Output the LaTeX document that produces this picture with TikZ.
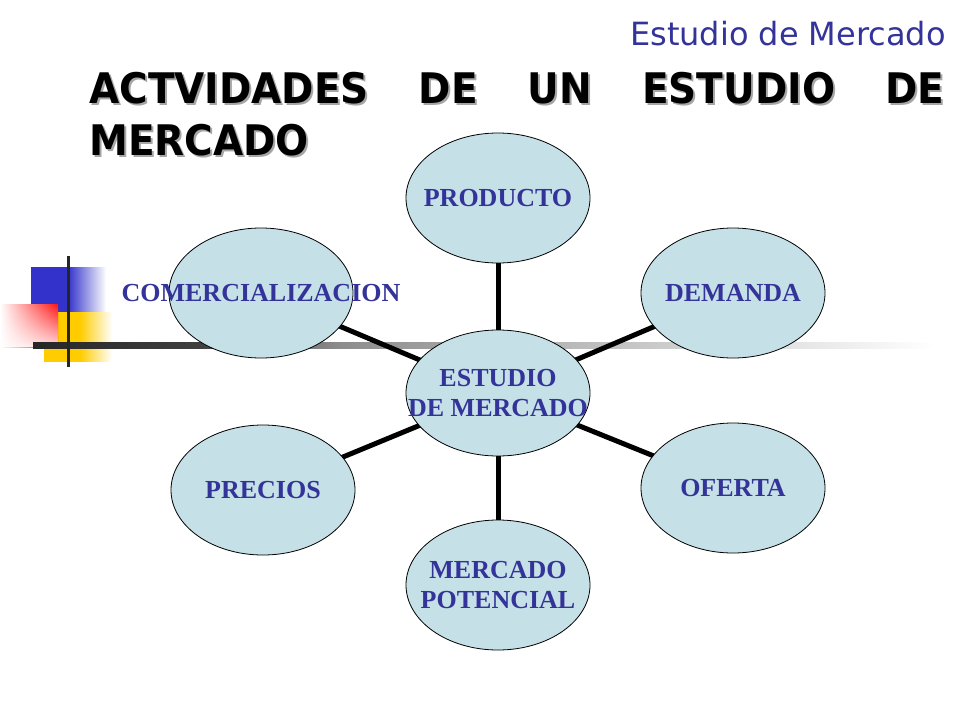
\documentclass[tikz,border=0pt]{standalone}
\usepackage{fontspec}
\setmainfont{Liberation Serif}
\newfontfamily\dejavu{DejaVu Sans}
\usetikzlibrary{shapes.geometric,fadings}
\pgfdeclarelayer{bg}
\pgfsetlayers{bg,main}
\definecolor{navy}{RGB}{51,51,153}
\definecolor{bubblefill}{RGB}{197,224,230}
\definecolor{sqblue}{RGB}{51,51,204}
\definecolor{sqyellow}{RGB}{255,204,0}
\definecolor{sqred}{RGB}{255,20,20}
\newcommand{\shadowtxt}[1]{\makebox[0pt][l]{\hspace{2pt}\raisebox{-2pt}{\color{black!35}#1}}#1}
\begin{document}
\begin{tikzpicture}[x=1pt,y=-1pt,
  bubble/.style={ellipse, draw=black, line width=0.8pt, fill=bubblefill,
    minimum width=184pt, minimum height=130pt, inner sep=0pt},
  lbl/.style={text=navy, font=\fontsize{26}{30}\selectfont\bfseries, align=center},
  link/.style={line width=5pt, black},
  ttl/.style={anchor=base west, inner sep=0pt, font=\dejavu\bfseries\fontsize{39}{44}\selectfont}]
\useasboundingbox (0,0) rectangle (960,720);

% bubbles
\node[bubble] (prod) at (498,198) {};
\node[bubble] (dem) at (733,293) {};
\node[bubble] (com) at (261,293) {};
\node[bubble, minimum height=126pt] (est) at (498,393) {};
\node[bubble] (pre) at (263,490) {};
\node[bubble] (ofe) at (733,488) {};
\node[bubble] (mer) at (498,585) {};

% labels
\node[lbl] (lprod) at (prod) {PRODUCTO};
\node[lbl] (ldem) at (dem) {DEMANDA};
\node[lbl] (lcom) at (com) {COMERCIALIZACION};
\node[lbl] (lest) at (est) {ESTUDIO\\DE MERCADO};
\node[lbl] (lpre) at (pre) {PRECIOS};
\node[lbl] (lofe) at (ofe) {OFERTA};
\node[lbl] (lmer) at (mer) {MERCADO\\POTENCIAL};

\begin{pgfonlayer}{bg}
  % decorative squares
  \fill[sqblue] (31,267) rectangle (68,312);
  \fill[sqblue, path fading=east] (68,267) rectangle (106,312);
  \fill[sqyellow] (44,312) rectangle (80,362);
  \fill[sqyellow, path fading=east] (80,312) rectangle (112,362);
  \shade[left color=white, right color=sqred] (0,304) rectangle (58,347);
  \fill[white, opacity=0.85, path fading=north] (0,304) rectangle (58,347);
  % horizontal rule
  \shade[left color=black!85, right color=black!75] (33,342) rectangle (200,348);
  \shade[left color=black!75, right color=black!45] (200,342) rectangle (340,348);
  \shade[left color=black!45, right color=black!22] (340,342) rectangle (640,348);
  \shade[left color=black!22, right color=white] (640,342) rectangle (935,348);
  % vertical rule
  \draw[line width=3pt, black!85] (68,256) -- (68,367);
  % connectors
  \draw[link] (est.center) -- (prod.center);
  \draw[link] (est.center) -- (dem.center);
  \draw[link] (est.center) -- (com.center);
  \draw[link] (est.center) -- (pre.center);
  \draw[link] (est.center) -- (ofe.center);
  \draw[link] (est.center) -- (mer.center);
\end{pgfonlayer}

% titles
\node[anchor=base east, inner sep=0pt, font=\dejavu\fontsize{32}{36}\selectfont, text=navy] (sub) at (946,45) {Estudio de Mercado};
\node[ttl] (t1) at (89,103) {\hbox to 855pt{\scalebox{1}[1.08]{\shadowtxt{ACTVIDADES}}\hfill \scalebox{1}[1.08]{\shadowtxt{DE}}\hfill \scalebox{1}[1.08]{\shadowtxt{UN}}\hfill \scalebox{1}[1.08]{\shadowtxt{ESTUDIO}}\hfill \scalebox{1}[1.08]{\shadowtxt{DE}}}};
\node[ttl] (t2) at (89,155) {\scalebox{1}[1.08]{\shadowtxt{MERCADO}}};
\end{tikzpicture}
\end{document}
